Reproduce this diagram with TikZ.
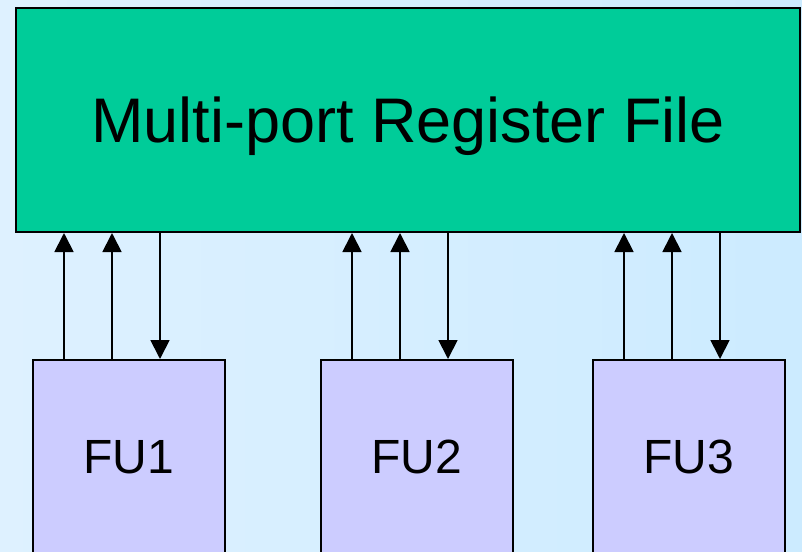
\documentclass[tikz,border=0pt]{standalone}
\usepackage{fontspec}
\setmainfont{Liberation Sans}
\usetikzlibrary{arrows.meta,positioning}
\definecolor{bgleft}{RGB}{222,241,255}
\definecolor{bgright}{RGB}{204,235,255}
\definecolor{regcol}{RGB}{0,204,153}
\definecolor{fucol}{RGB}{204,204,255}

\begin{document}
\begin{tikzpicture}[
		x=1pt, y=-1pt,
		regfile/.style={
			rectangle,
			draw=black,
			line width=2pt,
			fill=regcol,
			minimum width=784pt,
			minimum height=224pt,
			inner sep=0pt,
			text depth=0pt,
			font=\fontsize{63}{70}\selectfont
		},
		unit/.style={
			rectangle,
			draw=black,
			line width=2pt,
			fill=fucol,
			minimum width=192pt,
			minimum height=194pt,
			inner sep=0pt,
			text depth=0pt,
			font=\fontsize{48}{54}\selectfont
		},
		port/.style={
			line width=1.8pt,
			-{Triangle[length=19pt,width=19pt]}
		}
		]
		% background and frame
		\useasboundingbox (0,0) rectangle (802,551);
		\clip (0,0) rectangle (802,551);
		\shade [left color=bgleft, right color=bgright] (0,0) rectangle (802,551);
		
		% register file and functional units
		\node [regfile] (rf) at (408,120) {Multi-port Register File};
		
		\node [unit] (fu1) at (128.5,457) {FU1};
		\node [unit, right=94pt of fu1] (fu2) {FU2};
		\node [unit, right=78pt of fu2] (fu3) {FU3};
		
		% read and write ports
		\foreach \f in {fu1,fu2,fu3} {
			\draw [port] ([xshift=-64.5pt]\f.north) -- ([xshift=-64.5pt]\f.north |- rf.south);
			\draw [port] ([xshift=-16.5pt]\f.north) -- ([xshift=-16.5pt]\f.north |- rf.south);
			\draw [port] ([xshift=31.5pt]\f.north |- rf.south) -- ([xshift=31.5pt]\f.north);
		}
		
\end{tikzpicture}
\end{document}
